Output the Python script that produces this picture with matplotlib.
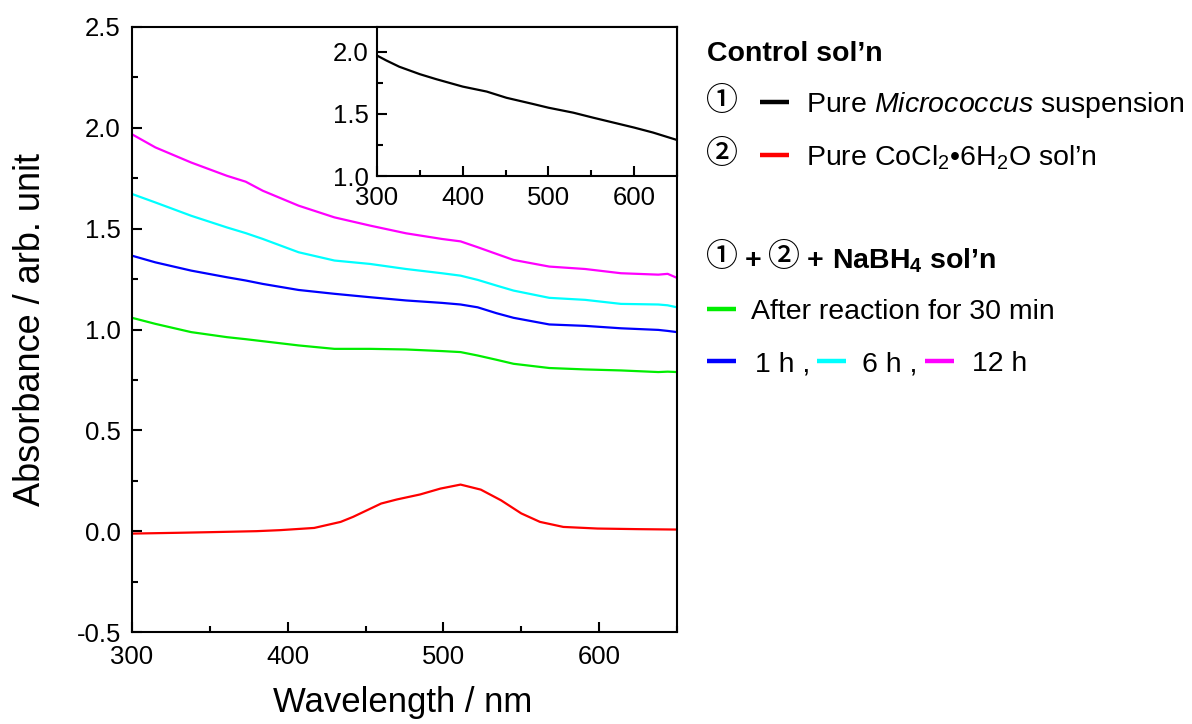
import matplotlib
matplotlib.use("Agg")
import matplotlib.pyplot as plt
from matplotlib.lines import Line2D

plt.rcParams['font.family'] = ['Liberation Sans', 'DejaVu Sans']
plt.rcParams['mathtext.fontset'] = 'custom'
plt.rcParams['mathtext.rm'] = 'Liberation Sans'
plt.rcParams['mathtext.it'] = 'Liberation Sans:italic'
plt.rcParams['mathtext.bf'] = 'Liberation Sans:bold'

# ---------------- data ----------------
wl = [300, 315, 338, 361, 373, 384, 407, 430, 453, 476, 499, 511, 522, 534, 545, 568, 591, 614, 638, 644, 650]
abs_12h = [1.968, 1.903, 1.828, 1.762, 1.733, 1.688, 1.614, 1.556, 1.515, 1.477, 1.449, 1.437, 1.408, 1.375, 1.345, 1.312, 1.300, 1.279, 1.272, 1.276, 1.256]
abs_6h = [1.672, 1.630, 1.564, 1.506, 1.478, 1.449, 1.383, 1.342, 1.325, 1.300, 1.279, 1.267, 1.246, 1.218, 1.193, 1.157, 1.147, 1.127, 1.124, 1.120, 1.110]
abs_1h = [1.366, 1.333, 1.292, 1.259, 1.243, 1.226, 1.196, 1.177, 1.160, 1.144, 1.132, 1.124, 1.110, 1.081, 1.058, 1.025, 1.018, 1.006, 0.998, 0.993, 0.987]
abs_30m = [1.058, 1.028, 0.987, 0.962, 0.952, 0.942, 0.921, 0.904, 0.904, 0.901, 0.893, 0.888, 0.871, 0.850, 0.830, 0.809, 0.802, 0.797, 0.789, 0.791, 0.789]

wl_co = [300, 330, 350, 380, 395, 417, 434, 442, 451, 460, 470, 485, 498, 511, 524, 537, 550, 562, 577, 599, 625, 650]
abs_co = [-0.012, -0.008, -0.005, 0.0, 0.005, 0.016, 0.046, 0.071, 0.104, 0.137, 0.157, 0.182, 0.211, 0.231, 0.206, 0.153, 0.088, 0.046, 0.021, 0.013, 0.010, 0.008]

wl_mc = [300, 311, 326, 350, 369, 400, 428, 451, 482, 500, 529, 552, 576, 600, 622, 650]
abs_mc = [1.97, 1.93, 1.88, 1.82, 1.78, 1.72, 1.68, 1.63, 1.58, 1.55, 1.51, 1.47, 1.43, 1.39, 1.35, 1.29]

xticks = [300, 400, 500, 600]
yticks = [-0.5, 0.0, 0.5, 1.0, 1.5, 2.0, 2.5]
inset_yticks = [1.0, 1.5, 2.0]

# ---------------- figure ----------------
W, H = 1192, 724
fig = plt.figure(figsize=(W / 100, H / 100), dpi=100)

def fx(px):
    return px / W

def fy(py):
    return 1 - py / H

AX_L, AX_R, AX_T, AX_B = 132, 677, 27, 632
ax = fig.add_axes([fx(AX_L), fy(AX_B), fx(AX_R) - fx(AX_L), fy(AX_T) - fy(AX_B)])
lw = 1.6
ax.plot(wl_co, abs_co, color='#ff0000', lw=lw)
ax.plot(wl, abs_30m, color='#00ee00', lw=lw)
ax.plot(wl, abs_1h, color='#0000ff', lw=lw)
ax.plot(wl, abs_6h, color='#00ffff', lw=lw)
ax.plot(wl, abs_12h, color='#ff00ff', lw=lw)
ax.set_xlim(300, 650)
ax.set_ylim(-0.5, 2.5)
ax.set_xticks(xticks)
ax.set_xticks([350, 450, 550, 650], minor=True)
ax.set_yticks(yticks)
ax.set_yticks([-0.25, 0.25, 0.75, 1.25, 1.75, 2.25], minor=True)
ax.set_yticklabels([f"{v:.1f}" for v in yticks])
ax.tick_params(which='both', direction='in', labelsize=18.5, width=1.5, top=False, right=False)
ax.tick_params(which='major', length=7)
ax.tick_params(which='minor', length=4)
ax.tick_params(axis='x', pad=9)
ax.tick_params(axis='y', pad=8)
for s in ax.spines.values():
    s.set_linewidth(1.5)
ax.set_xlabel('Wavelength / nm', fontsize=25, va='top')
ax.set_ylabel('Absorbance / arb. unit', fontsize=26, va='center')
ax.xaxis.set_label_coords((403 - AX_L) / (AX_R - AX_L), -(686 - AX_B) / (AX_B - AX_T))
ax.yaxis.set_label_coords(-(AX_L - 31) / (AX_R - AX_L), 0.5)

# inset
axi = fig.add_axes([fx(377), fy(176), fx(AX_R) - fx(377), fy(AX_T) - fy(176)])
axi.plot(wl_mc, abs_mc, color='black', lw=1.6)
axi.set_xlim(300, 650)
axi.set_ylim(1.0, 2.2)
axi.set_xticks(xticks)
axi.set_xticks([350, 450, 550, 650], minor=True)
axi.set_yticks(inset_yticks)
axi.set_yticks([1.25, 1.75], minor=True)
axi.set_yticklabels([f"{v:.1f}" for v in inset_yticks])
axi.tick_params(which='both', direction='in', labelsize=18.5, width=1.5, top=False, right=False)
axi.tick_params(axis='y', pad=6)
axi.tick_params(axis='x', pad=7)
axi.tick_params(which='major', length=7)
axi.tick_params(which='minor', length=4)
for s in axi.spines.values():
    s.set_linewidth(1.5)

# ---------------- legend ----------------
fs = 20.5
circ_font = ['Noto Sans CJK JP', 'DejaVu Sans']

def leg_line(x0, x1, y, color):
    fig.add_artist(Line2D([fx(x0), fx(x1)], [fy(y), fy(y)], color=color, lw=3.2,
                          transform=fig.transFigure, solid_capstyle='butt'))

def txt(x, ybase, s, **kw):
    fig.text(fx(x), fy(ybase), s, fontsize=fs, va='baseline', ha='left', **kw)

def circ(x, yc, s):
    fig.text(fx(x), fy(yc), s, fontsize=23, va='center', ha='left', family=circ_font,
             fontweight='medium')

txt(707, 61, 'Control sol\u2019n', fontweight='bold')

circ(706, 101, '\u2460')
leg_line(760, 789, 102, 'black')
txt(806, 112, 'Pure $\\mathit{Micrococcus}$ suspension')

circ(706, 154, '\u2461')
leg_line(760, 789, 155, '#ff0000')
txt(806, 165, 'Pure CoCl$_2$\u20226H$_2$O sol\u2019n')

circ(706, 257, '\u2460')
txt(745, 268, '+', fontweight='bold')
circ(768, 257, '\u2461')
txt(807, 268, '+', fontweight='bold')
txt(832, 268, 'NaBH$_\\mathbf{4}$ sol\u2019n', fontweight='bold')

leg_line(707, 736, 309, '#00ee00')
txt(751, 319, 'After reaction for 30 min')

leg_line(707, 736, 361, '#0000ff')
txt(755, 371, '1 h ,')
leg_line(817, 846, 361, '#00ffff')
txt(862, 371, '6 h ,')
leg_line(925, 954, 361, '#ff00ff')
txt(972, 371, '12 h')

fig.savefig('out.png', dpi=100)
